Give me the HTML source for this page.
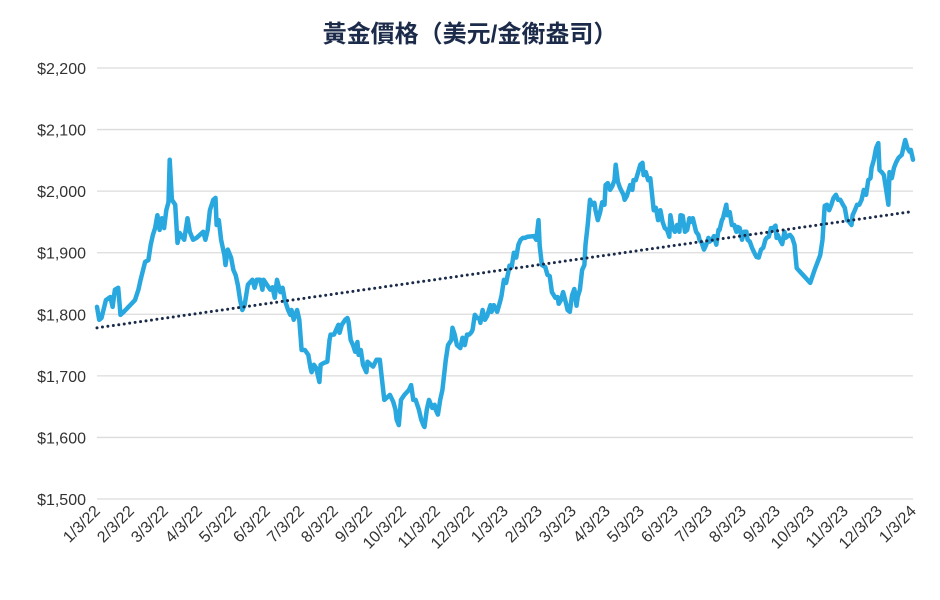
<!DOCTYPE html>
<html><head><meta charset="utf-8"><style>
body{margin:0;background:#fff;}
svg{display:block;font-family:"Liberation Sans","Noto Sans CJK TC",sans-serif;}
</style></head><body>
<svg id="chart" width="940" height="600" viewBox="0 0 940 600">
<text x="470" y="42" text-anchor="middle" font-size="24" font-weight="bold" fill="#1c2b4a" font-family="'Liberation Sans','Noto Sans CJK TC',sans-serif">黃金價格（美元/金衡盎司）</text>
<g id="grid"></g><g id="yl"></g><g id="xl"></g><g id="series"></g>
</svg>
<script>
const days=[0,2,4,8,12,14,16,19,21,24,34,37,39,43,46,48,50,52,54,56,58,60,62,64,65,67,70,72,74,78,81,83,86,89,92,95,97,99,101,104,106,107,109,111,114,115,117,120,122,124,126,128,130,132,135,139,141,143,146,148,149,152,155,157,159,161,164,166,168,171,173,174,176,179,181,183,186,189,191,192,194,196,199,200,203,206,208,209,212,214,216,217,219,222,224,225,227,229,231,233,234,236,238,241,242,245,247,250,253,255,257,259,262,265,267,268,270,272,275,279,281,283,285,288,290,292,293,295,297,300,302,303,305,307,309,312,314,317,318,320,322,325,327,329,331,333,335,336,338,340,342,343,345,347,349,352,353,355,358,361,362,364,366,368,369,371,373,375,377,379,381,383,385,391,393,395,396,398,401,403,405,407,410,412,413,415,417,420,421,423,425,427,428,429,430,432,434,436,437,439,441,443,445,446,448,450,452,454,455,457,459,461,463,464,466,468,471,472,474,477,479,480,482,484,486,488,489,491,493,495,497,498,500,502,504,506,508,510,512,513,515,517,519,521,522,524,526,528,530,531,533,536,538,539,541,543,545,547,548,550,552,554,556,557,559,560,563,564,566,568,570,572,573,575,577,579,581,582,584,586,588,590,592,594,596,598,599,601,603,605,607,608,609,611,613,615,616,618,620,622,624,626,629,633,638,642,647,649,651,653,655,657,658,659,661,663,665,667,669,671,673,675,676,678,680,682,684,686,688,690,692,693,695,697,699,700,702,704,706,708,709,711,713,715,717,720,721,723,725,727,728,730];
const prices=[1812,1791,1794,1823,1828,1812,1840,1843,1799,1804,1823,1840,1856,1885,1888,1913,1929,1940,1961,1937,1956,1940,1969,1982,2051,1986,1978,1916,1932,1921,1956,1934,1921,1924,1929,1934,1921,1937,1969,1986,1989,1945,1953,1921,1896,1880,1905,1892,1872,1864,1848,1823,1807,1815,1848,1856,1843,1856,1856,1840,1856,1848,1840,1844,1827,1856,1836,1843,1823,1807,1799,1807,1791,1807,1791,1742,1742,1734,1713,1706,1718,1713,1690,1718,1721,1723,1758,1767,1767,1775,1783,1770,1783,1791,1794,1788,1758,1750,1739,1755,1734,1742,1718,1706,1723,1718,1715,1726,1726,1694,1661,1664,1669,1658,1645,1629,1620,1661,1669,1677,1685,1661,1661,1645,1629,1620,1617,1645,1661,1648,1653,1645,1637,1661,1677,1726,1750,1758,1778,1767,1750,1745,1762,1750,1767,1767,1771,1775,1799,1794,1794,1786,1807,1791,1797,1815,1804,1815,1804,1823,1831,1856,1851,1869,1879,1877,1900,1892,1913,1921,1924,1924,1926,1927,1921,1953,1911,1880,1877,1864,1862,1836,1827,1828,1817,1823,1836,1815,1807,1804,1831,1841,1830,1814,1828,1840,1872,1880,1913,1945,1986,1978,1981,1969,1953,1965,1982,1978,2010,2013,2002,2008,2018,2043,2015,2005,1994,1986,1992,2010,2002,2018,2018,2030,2043,2046,2026,2031,2018,2021,1986,1969,1973,1953,1969,1950,1940,1937,1926,1961,1940,1934,1945,1934,1961,1960,1934,1937,1956,1950,1956,1934,1929,1921,1916,1905,1913,1924,1918,1921,1927,1913,1937,1937,1953,1956,1978,1961,1966,1945,1945,1934,1942,1940,1921,1934,1934,1921,1918,1908,1900,1893,1892,1905,1908,1921,1924,1926,1940,1940,1944,1924,1929,1921,1914,1934,1924,1927,1929,1924,1913,1875,1869,1861,1851,1872,1896,1921,1976,1978,1969,1978,1984,1989,1994,1986,1986,1979,1973,1953,1950,1945,1961,1969,1978,1978,1986,2002,1994,2018,2021,2038,2051,2070,2078,2034,2031,2026,2002,1978,2031,2021,2038,2047,2054,2059,2067,2083,2070,2064,2067,2051];
const trendValues=[1778,1967];
const yTicks=[1500,1600,1700,1800,1900,2000,2100,2200];
const yTickLabels=["$1,500","$1,600","$1,700","$1,800","$1,900","$2,000","$2,100","$2,200"];
const xTickLabels=["1/3/22","2/3/22","3/3/22","4/3/22","5/3/22","6/3/22","7/3/22","8/3/22","9/3/22","10/3/22","11/3/22","12/3/22","1/3/23","2/3/23","3/3/23","4/3/23","5/3/23","6/3/23","7/3/23","8/3/23","9/3/23","10/3/23","11/3/23","12/3/23","1/3/24"];
const X0=97,X1=913,Y0=499,Y1=68,DMAX=730;
const xs=d=>X0+(X1-X0)*d/DMAX;
const ys=v=>Y0-(Y0-Y1)*(v-1500)/700;
const NS="http://www.w3.org/2000/svg";
function mk(t,a,p){const e=document.createElementNS(NS,t);for(const k in a)e.setAttribute(k,a[k]);p.appendChild(e);return e;}
const grid=document.getElementById('grid'),yl=document.getElementById('yl'),xl=document.getElementById('xl'),ser=document.getElementById('series');
yTicks.forEach((v,i)=>{
  const l=mk('line',{x1:X0,x2:X1,y1:ys(v),y2:ys(v),stroke:'#dcdcdc','stroke-width':1.3},grid);
  
  
  const t=mk('text',{x:86,y:ys(v)+6,'text-anchor':'end','font-size':16,fill:'#333'},yl);
  t.textContent=yTickLabels[i];
  
  
});
xTickLabels.forEach((s,i)=>{
  const x=X0+(X1-X0)*i/(xTickLabels.length-1);
  const t=mk('text',{x:x+4,y:512,'text-anchor':'end','font-size':16,fill:'#333',transform:`rotate(-45 ${x+4} 512)`},xl);
  t.textContent=s;
  
  
});
const pts=days.map((d,i)=>xs(d).toFixed(1)+','+ys(prices[i]).toFixed(1)).join(' ');
const pl=mk('polyline',{points:pts,fill:'none',stroke:'#29a8e0','stroke-width':4.5,'stroke-linejoin':'round','stroke-linecap':'round'},ser);


const tr=mk('line',{x1:xs(0),y1:ys(trendValues[0]),x2:xs(DMAX),y2:ys(trendValues[1]),stroke:'#1a2a48','stroke-width':3,'stroke-dasharray':'0 5.5','stroke-linecap':'round'},ser);


</script>
</body></html>
